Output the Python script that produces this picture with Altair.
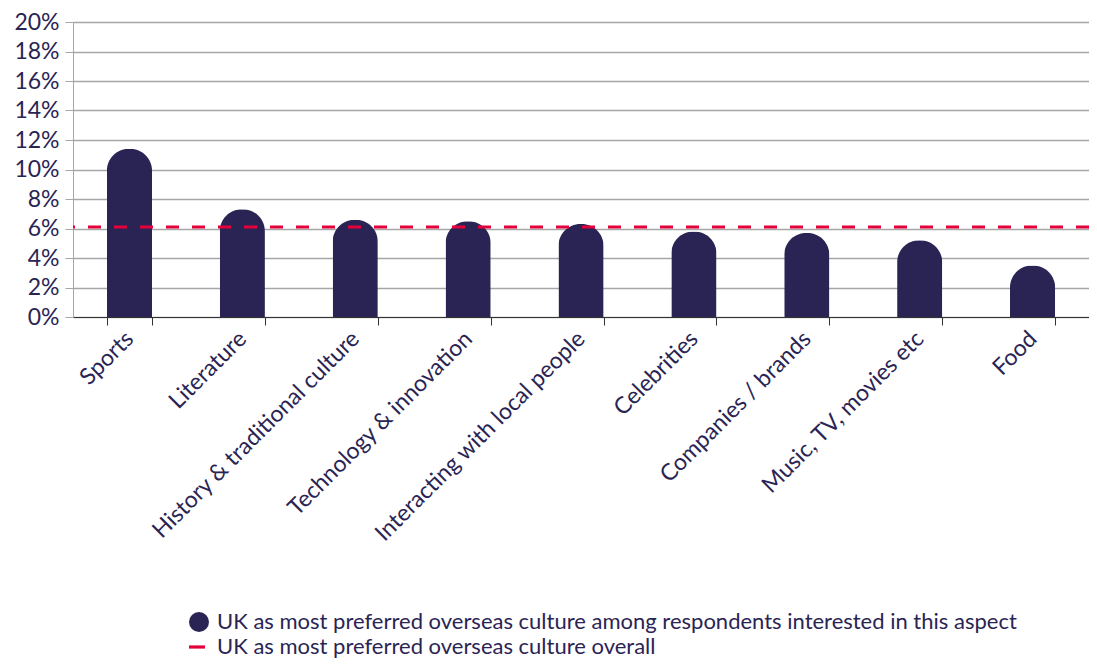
import altair as alt
import pandas as pd

categories = ["Sports", "Literature", "History & traditional culture", "Technology & innovation",
              "Interacting with local people", "Celebrities", "Companies / brands",
              "Music, TV, movies etc", "Food"]
values = [0.114, 0.073, 0.066, 0.065, 0.063, 0.058, 0.057, 0.052, 0.035]
overall = 0.061
y_ticks = [0, 0.02, 0.04, 0.06, 0.08, 0.10, 0.12, 0.14, 0.16, 0.18, 0.20]
legend_bar = "UK as most preferred overseas culture among respondents interested in this aspect"
legend_line = "UK as most preferred overseas culture overall"

NAVY = "#2a2454"
RED = "#e4003b"
FONT = "Lato"

df = pd.DataFrame({"cat": categories, "val": values})

y_axis = alt.Axis(title=None, values=y_ticks, format=".0%", tickSize=8,
                  tickColor="#a6a6a6", domainColor="#a6a6a6", gridColor="#a6a6a6",
                  gridWidth=1.5, labelFontSize=23, labelColor=NAVY, labelFont=FONT,
                  labelPadding=6, labelOverlap=False, labelFlush=False)
y_scale = alt.Scale(domain=[0, 0.2], nice=False)

bars = alt.Chart(df).mark_bar(color=NAVY, cornerRadiusTopLeft=22, cornerRadiusTopRight=22).encode(
    x=alt.X("cat:N", sort=categories,
            scale=alt.Scale(paddingInner=0.6, paddingOuter=0.3),
            axis=alt.Axis(title=None, labelAngle=315, labelAlign="right", labelBaseline="middle",
                          tickBand="extent", tickSize=8, tickColor="#333333", domainColor="#333333",
                          labelFontSize=23, labelColor=NAVY, labelFont=FONT, labelPadding=10,
                          grid=False, labelLimit=400)),
    y=alt.Y("val:Q", scale=y_scale, axis=y_axis),
)

rule = alt.Chart(pd.DataFrame({"v": [overall]})).mark_rule(
    color=RED, strokeWidth=3, strokeDash=[13, 13]).encode(
    y=alt.Y("v:Q", scale=y_scale, axis=None))

leg_sym1 = alt.Chart(pd.DataFrame({"t": [legend_bar]})).mark_point(
    shape="circle", filled=True, color=NAVY, opacity=1, size=400).encode(
    x=alt.value(126), y=alt.value(600))
leg_txt1 = alt.Chart(pd.DataFrame({"t": [legend_bar]})).mark_text(
    align="left", baseline="middle", font=FONT, fontSize=22, color=NAVY).encode(
    x=alt.value(144), y=alt.value(600), text="t:N")
leg_sym2 = alt.Chart(pd.DataFrame({"t": [legend_line]})).mark_point(
    shape="M-1,-0.2 H1 V0.2 H-1 Z", filled=True, color=RED, opacity=1, size=256).encode(
    x=alt.value(124), y=alt.value(625))
leg_txt2 = alt.Chart(pd.DataFrame({"t": [legend_line]})).mark_text(
    align="left", baseline="middle", font=FONT, fontSize=22, color=NAVY).encode(
    x=alt.value(144), y=alt.value(625), text="t:N")

chart = alt.layer(bars, rule, leg_sym1, leg_txt1, leg_sym2, leg_txt2).resolve_axis(
    y="independent").properties(
    width=1016, height=295,
    autosize=alt.AutoSizeParams(type="none"),
    padding={"left": 65, "top": 14, "right": 0, "bottom": 344},
).configure_view(stroke=None)

chart.save("out.html", embed_options={"renderer": "svg", "actions": False})
